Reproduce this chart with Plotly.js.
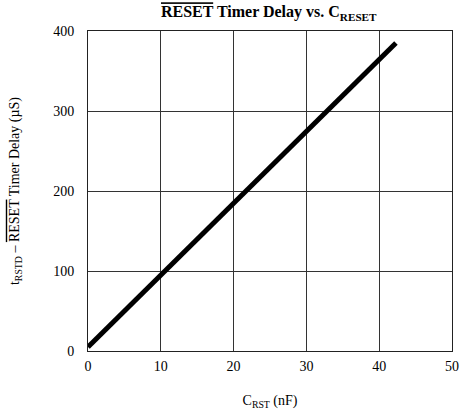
<!DOCTYPE html>
<html><head><meta charset="utf-8">
<script src="https://cdn.plot.ly/plotly-3.0.1.min.js"></script>
<style>body{margin:0;background:#fff}#c{width:465px;height:418px}</style>
</head><body><div id="c"></div>
<script>
const capacitanceNF = [0, 10, 20, 30, 40, 42.3];
const delayUS = [5, 95, 184, 274, 364, 385];
const xTicks = [0, 10, 20, 30, 40, 50];
const yTicks = [0, 100, 200, 300, 400];

const OL = s => '<span style="text-decoration:overline">' + s + '</span>';

Plotly.newPlot('c', [{
  x: capacitanceNF, y: delayUS, mode: 'lines', type: 'scatter',
  line: {color: '#000', width: 5}, hoverinfo: 'none'
}], {
  width: 465, height: 418,
  margin: {l: 88, r: 13, t: 31, b: 67},
  paper_bgcolor: '#fff', plot_bgcolor: '#fff',
  font: {family: 'Liberation Serif, Times New Roman, serif', color: '#000', size: 14},
  showlegend: false,
  title: {text: '<b>' + OL('RESET') + ' Timer Delay vs. C<sub>RESET</sub></b>',
    x: 0.578, xanchor: 'center', y: 0.972, yanchor: 'middle', font: {size: 16}},
  xaxis: {range: [0, 50], tickvals: xTicks, ticktext: xTicks.map(String),
    showgrid: true, gridcolor: '#333', gridwidth: 1, zeroline: false,
    showline: true, linecolor: '#222', linewidth: 1, mirror: true, ticks: '',
    tickfont: {size: 14}, ticklabelstandoff: 2,
    title: {text: 'C<sub>RST</sub> (nF)', font: {size: 14}, standoff: 22}},
  yaxis: {range: [0, 400], tickvals: yTicks, ticktext: yTicks.map(String),
    showgrid: true, gridcolor: '#333', gridwidth: 1, zeroline: false,
    showline: true, linecolor: '#222', linewidth: 1, mirror: true, ticks: '',
    tickfont: {size: 14}, ticklabelstandoff: 10,
    title: {text: 't<sub>RSTD</sub> – ' + OL('RESET') + ' Timer Delay (µS)', font: {size: 14}, standoff: 30}}
}, {displayModeBar: false, staticPlot: true});
</script></body></html>
